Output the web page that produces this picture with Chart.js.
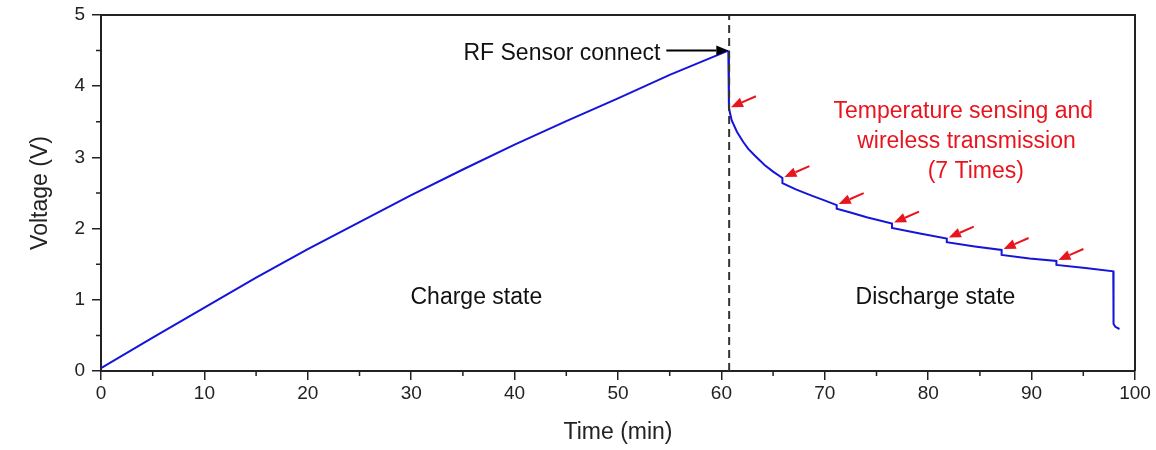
<!DOCTYPE html>
<html lang="en">
<head>
<meta charset="UTF-8">
<title>Voltage vs time</title>
<script src="https://cdn.jsdelivr.net/npm/chart.js@4.4.1/dist/chart.umd.min.js"></script>
<style>
  body { margin: 0; background: #fff; }
  #wrap { width: 1156px; height: 450px; }
</style>
</head>
<body>
<div id="wrap"><canvas id="graph" width="1156" height="450"></canvas></div>
<script>
// charge phase (min, V)
const chargeTime = [0, 5, 10, 15, 20, 25, 30, 35, 40, 45, 50, 55, 60.67];
const chargeVolt = [0.04, 0.47, 0.89, 1.31, 1.71, 2.09, 2.47, 2.83, 3.18, 3.51, 3.83, 4.16, 4.50];

// discharge phase after the RF sensor is connected
const dischargeTime = [60.67, 60.73, 61.0, 61.5, 62.1, 62.6, 63.2, 63.7, 64.2, 65.0, 65.9,
  65.9, 67.2, 68.6, 69.9, 71.15,
  71.15, 72.4, 74.05, 76.5,
  76.5, 79.2, 81.8,
  81.8, 84.5, 87.1,
  87.1, 89.8, 92.4,
  92.4, 95.2, 97.9,
  97.9, 97.95, 98.1, 98.5];
const dischargeVolt = [4.50, 3.69, 3.52, 3.36, 3.22, 3.12, 3.03, 2.96, 2.89, 2.80, 2.71,
  2.64, 2.55, 2.47, 2.40, 2.33,
  2.28, 2.23, 2.16, 2.07,
  2.01, 1.93, 1.86,
  1.81, 1.75, 1.70,
  1.63, 1.58, 1.545,
  1.49, 1.445, 1.40,
  0.72, 0.66, 0.62, 0.59];

// the 7 sensing / transmission events (arrow tips)
const eventTime = [60.73, 65.9, 71.15, 76.5, 81.8, 87.1, 92.4];
const eventVolt = [3.69, 2.71, 2.33, 2.07, 1.86, 1.70, 1.545];

const connectTime = 60.75;
const xTicks = { min: 0, max: 100, step: 10, minor: 5 };
const yTicks = { min: 0, max: 5, step: 1, minor: 0.5 };

const redLines = ['Temperature sensing and', 'wireless transmission', '(7 Times)'];
const redLineTime = [83.4, 83.7, 84.6];
const redLineVolt = [3.64, 3.22, 2.80];

const FONT = "Arial, 'Liberation Sans', sans-serif";
const INK = '#222';
const BLUE = '#1414dc';
const RED = '#e8141e';

const toXY = (ts, vs) => ts.map((t, i) => ({ x: t, y: vs[i] }));

function arrow(ctx, x1, y1, x2, y2, color, head, half, lw) {
    const a = Math.atan2(y2 - y1, x2 - x1);
    const bx = x2 - head * Math.cos(a), by = y2 - head * Math.sin(a);
    ctx.save();
    ctx.strokeStyle = color;
    ctx.fillStyle = color;
    ctx.lineWidth = lw;
    ctx.beginPath();
    ctx.moveTo(x1, y1);
    ctx.lineTo(bx, by);
    ctx.stroke();
    ctx.beginPath();
    ctx.moveTo(x2, y2);
    ctx.lineTo(bx + half * Math.sin(a), by - half * Math.cos(a));
    ctx.lineTo(bx - half * Math.sin(a), by + half * Math.cos(a));
    ctx.closePath();
    ctx.fill();
    ctx.restore();
}

// frame, minor ticks and text notes
const notes = {
    id: 'notes',
    afterDraw(chart) {
        const { ctx, chartArea: a, scales: { x, y } } = chart;
        ctx.save();
        ctx.strokeStyle = INK;
        ctx.lineWidth = 2;
        ctx.beginPath();
        ctx.moveTo(a.left, a.top);
        ctx.lineTo(a.right, a.top);
        ctx.lineTo(a.right, a.bottom);
        ctx.stroke();

        ctx.lineWidth = 1.5;
        ctx.beginPath();
        for (let v = xTicks.min + xTicks.minor; v < xTicks.max; v += xTicks.step) {
            const px = x.getPixelForValue(v);
            ctx.moveTo(px, a.bottom);
            ctx.lineTo(px, a.bottom + 5);
        }
        for (let v = yTicks.min + yTicks.minor; v < yTicks.max; v += yTicks.step) {
            const py = y.getPixelForValue(v);
            ctx.moveTo(a.left, py);
            ctx.lineTo(a.left - 5, py);
        }
        ctx.stroke();

        // red event arrows
        eventTime.forEach((t, i) => {
            const tx = x.getPixelForValue(t) + 2;
            const ty = y.getPixelForValue(eventVolt[i]) - 1;
            arrow(ctx, tx + 25, ty - 11, tx, ty, RED, 12, 5, 2);
        });

        // RF sensor connect
        const tipX = x.getPixelForValue(chargeTime[chargeTime.length - 1]);
        const tipY = y.getPixelForValue(chargeVolt[chargeVolt.length - 1]);
        arrow(ctx, tipX - 62, tipY, tipX, tipY, '#000', 12, 5, 2);
        ctx.font = '23px ' + FONT;
        ctx.fillStyle = '#111';
        ctx.textAlign = 'right';
        ctx.textBaseline = 'middle';
        ctx.fillText('RF Sensor connect', tipX - 68, tipY + 3);

        ctx.textAlign = 'center';
        ctx.fillText('Charge state', x.getPixelForValue(36.3), y.getPixelForValue(1.03));
        ctx.fillText('Discharge state', x.getPixelForValue(80.7), y.getPixelForValue(1.03));

        ctx.fillStyle = RED;
        redLines.forEach((s, i) => {
            ctx.fillText(s, x.getPixelForValue(redLineTime[i]), y.getPixelForValue(redLineVolt[i]));
        });
        ctx.restore();
    }
};

const ctx = document.getElementById('graph').getContext('2d');
const chart = new Chart(ctx, {
    type: 'scatter',
    data: {
        datasets: [
            {
                data: [{ x: connectTime, y: yTicks.min }, { x: connectTime, y: yTicks.max }],
                showLine: true,
                borderColor: '#333',
                borderWidth: 2,
                borderDash: [8, 5],
                pointRadius: 0
            },
            {
                data: toXY(chargeTime, chargeVolt),
                showLine: true,
                borderColor: BLUE,
                borderWidth: 2,
                pointRadius: 0
            },
            {
                data: toXY(dischargeTime, dischargeVolt),
                showLine: true,
                borderColor: BLUE,
                borderWidth: 2,
                pointRadius: 0
            }
        ]
    },
    options: {
        responsive: false,
        animation: false,
        layout: { padding: { top: 15, right: 21, left: 0, bottom: 0 } },
        plugins: { legend: { display: false }, tooltip: { enabled: false } },
        scales: {
            x: {
                type: 'linear',
                min: xTicks.min,
                max: xTicks.max,
                afterFit: s => { s.height = 79; },
                ticks: { stepSize: xTicks.step, color: INK, font: { family: FONT, size: 19 }, padding: 2 },
                grid: { drawOnChartArea: false, tickLength: 9, color: INK, lineWidth: 1.5 },
                border: { color: INK, width: 2 },
                title: { display: true, text: 'Time (min)', color: INK, font: { family: FONT, size: 23 }, padding: { bottom: 4 } }
            },
            y: {
                type: 'linear',
                min: yTicks.min,
                max: yTicks.max,
                afterFit: s => { s.width = 101; },
                ticks: { stepSize: yTicks.step, color: INK, font: { family: FONT, size: 19, lineHeight: 0.8 }, padding: 7 },
                grid: { drawOnChartArea: false, tickLength: 9, color: INK, lineWidth: 1.5 },
                border: { color: INK, width: 2 },
                title: { display: true, text: 'Voltage (V)', color: INK, font: { family: FONT, size: 23 }, padding: { top: 27 } }
            }
        }
    },
    plugins: [notes]
});
</script>
</body>
</html>
